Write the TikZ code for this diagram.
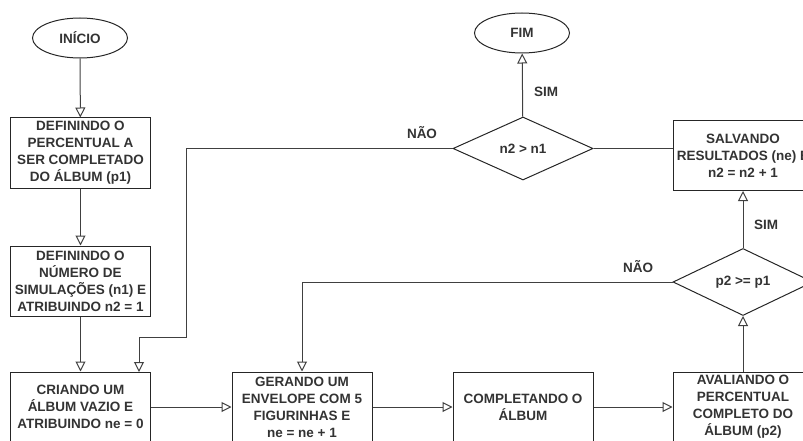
\documentclass[tikz,border=0pt]{standalone}
\usepackage{fontspec}
\setmainfont{Liberation Sans}
\usepackage{xcolor}
\usetikzlibrary{shapes.geometric,arrows.meta}

\tikzset{
  txt/.style={font=\fontsize{13.5}{17}\selectfont\bfseries, text=black!80, align=center},
  caixa/.style={txt, draw=black!85, line width=1pt, rectangle, minimum width=140pt, minimum height=70pt, inner sep=0pt},
  termo/.style={txt, draw=black!85, line width=1pt, ellipse, minimum width=95pt, minimum height=40pt, inner sep=0pt},
  decisao/.style={txt, draw=black!85, line width=1pt, diamond, minimum width=140pt, minimum height=63pt, inner sep=0pt},
  seta/.style={draw=black!75, line width=1pt, -{Triangle[open, length=10pt, width=10pt]}},
  linha/.style={draw=black!75, line width=1pt},
  rotulo/.style={txt, inner sep=0pt}
}

\begin{document}
\begin{tikzpicture}[x=1pt, y=-1pt]
      \useasboundingbox (0,0) rectangle (803,441);
      \clip (0,0) rectangle (803,441);
      % Inicio e fim
      \node[termo] (inicio) at (80,38) {INÍCIO};
      \node[termo] (fim) at (522,33) {FIM};
      % Caixas da esquerda
      \node[caixa] (p1) at (80.5,153) {DEFININDO O\\PERCENTUAL A\\SER COMPLETADO\\DO ÁLBUM (p1)};
      \node[caixa] (n1) at (80.5,281) {DEFININDO O\\NÚMERO DE\\SIMULAÇÕES (n1) E\\ATRIBUINDO n2 = 1};
      \node[caixa] (criar) at (80.5,407) {CRIANDO UM\\ÁLBUM VAZIO E\\ATRIBUINDO ne = 0};
      % Caixas de baixo
      \node[caixa] (gerar) at (302,407) {GERANDO UM\\ENVELOPE COM 5\\FIGURINHAS E\\ne = ne + 1};
      \node[caixa] (completar) at (523,407) {COMPLETANDO O\\ÁLBUM};
      \node[caixa] (avaliar) at (743,407) {AVALIANDO O\\PERCENTUAL\\COMPLETO DO\\ÁLBUM (p2)};
      % Decisoes
      \node[decisao] (d1) at (523,148.5) {n2 > n1};
      \node[decisao] (d2) at (743,282) {p2 >= p1};
      \node[caixa] (salvar) at (743,155.5) {SALVANDO\\RESULTADOS (ne) E\\n2 = n2 + 1};
      % Rotulos
      \node[rotulo] (nao1) at (422,133) {NÃO};
      \node[rotulo] (sim1) at (546,92) {SIM};
      \node[rotulo] (nao2) at (638,267) {NÃO};
      \node[rotulo] (sim2) at (766,225) {SIM};
      % Pontos de dobra
      \coordinate (c1) at (186,337);
      \coordinate (criarin) at (139,372);
      % Setas
      \draw[seta] (inicio) -- (p1);
      \draw[seta] (p1) -- (n1);
      \draw[seta] (n1) -- (criar);
      \draw[seta] (criar) -- (gerar);
      \draw[seta] (gerar) -- (completar);
      \draw[seta] (completar) -- (avaliar);
      \draw[seta] (avaliar) -- (d2);
      \draw[seta] (d2) -- (salvar);
      \draw[seta] (d1) -- (fim);
      \draw[seta] (d2.west) -| (gerar.north);
      \draw[seta] (d1.west) -| (c1) -| (criarin);
      \draw[linha] (d1.east) -- (d1.east -| salvar.west);
    \end{tikzpicture}
\end{document}
